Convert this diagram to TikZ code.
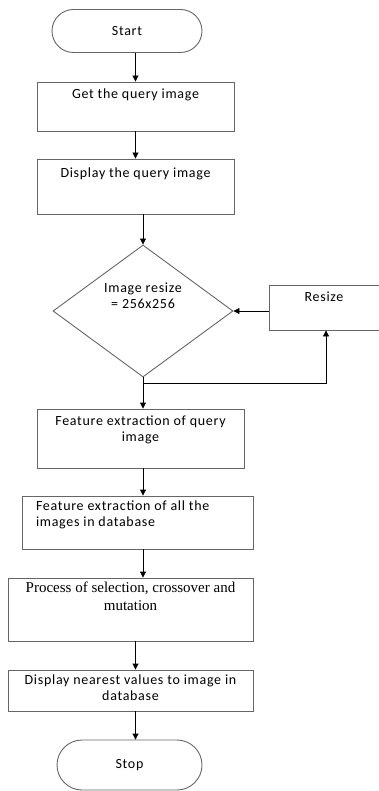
\documentclass[tikz,border=0pt]{standalone}
\usepackage{fontspec}
\setmainfont{Carlito}[LetterSpace=5]
\newfontfamily\serifbox{Liberation Serif}
\usetikzlibrary{shapes.geometric,shapes.misc,arrows.meta}

\begin{document}
\begin{tikzpicture}[x=1pt,y=-1pt,line width=.9pt,font=\fontsize{14}{16}\selectfont,
  box/.style={draw=black!60,rectangle,inner sep=0pt},
  term/.style={draw=black!60,rounded rectangle,inner sep=0pt},
  txt/.style={anchor=north,inner sep=0pt,align=center,yshift=-7pt},
  arr/.style={-{Triangle[length=6pt,width=6pt]},black}]
\useasboundingbox (0,0) rectangle (379,791);
\node[term,minimum width=150pt,minimum height=43pt] (start) at (127,31) {Start};
\node[box,minimum width=197pt,minimum height=49pt,label={[txt]north:Get the query image}] (get) at (135.5,106.5) {};
\node[box,minimum width=197pt,minimum height=55pt,label={[txt,yshift=-2pt]north:Display the query image}] (show) at (135.5,186.5) {};
\node[diamond,draw=black!60,inner sep=0pt,minimum width=180pt,minimum height=132pt,
  label={[anchor=center,align=center,yshift=15pt]center:Image resize\\= 256x256}] (check) at (143,311) {};
\node[box,minimum width=130pt,minimum height=45pt,label={[txt,xshift=-10pt]north:Resize}] (resize) at (334,307.5) {};
\node[box,minimum width=207pt,minimum height=59pt,label={[txt]north:Feature extraction of query\\image}] (featq) at (140.5,438.5) {};
\node[box,minimum width=231pt,minimum height=53pt,label={[anchor=north west,inner sep=0pt,align=left,xshift=14pt,yshift=-5pt]north west:Feature extraction of all the\\images in database}] (featdb) at (137.5,522.5) {};
\node[box,minimum width=245pt,minimum height=63pt,label={[anchor=north,inner sep=0pt,align=center,yshift=-4pt,font=\serifbox\fontsize{15}{18}\selectfont]north:Process of selection, crossover and\\mutation}] (ga) at (130.5,609.5) {};
\node[box,minimum width=245pt,minimum height=41pt,label={[txt,yshift=2pt]north:Display nearest values to image in\\database}] (near) at (130.5,690.5) {};
\node[term,minimum width=145pt,minimum height=50pt] (stop) at (129.5,765) {Stop};
\coordinate (loop) at (326,383);
\draw[arr] (get.north |- start.south) -- (get.north);
\draw[arr] (get.south) -- (show.north);
\draw[arr] (check.north |- show.south) -- (check.north);
\draw[arr] (check.south) -- (check.south |- featq.north);
\draw[arr] (check.south |- featq.south) -- (check.south |- featdb.north);
\draw[arr] (check.south |- featdb.south) -- (check.south |- ga.north);
\draw[arr] (get.south |- ga.south) -- (get.south |- near.north);
\draw[arr] (get.south |- near.south) -- (get.south |- stop.north);
\draw[arr] (resize.west |- check.east) -- (check.east);
\draw[arr] (check.south |- loop) -- (loop) -- (loop |- resize.south);
\end{tikzpicture}
\end{document}
